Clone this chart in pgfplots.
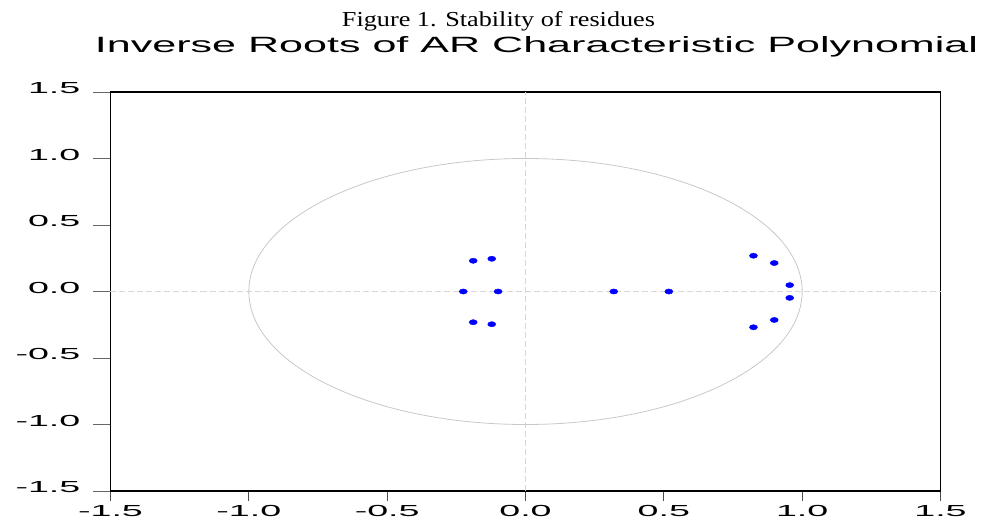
\documentclass[border=0pt]{standalone}
\usepackage{fontspec}
\setmainfont{Liberation Serif}
\setsansfont{Liberation Sans}
\usepackage{graphicx}
\usepackage{pgfplots}
\pgfplotsset{compat=1.18}
\definecolor{ptblue}{RGB}{0,0,255}
\definecolor{gridgray}{RGB}{215,215,215}
\definecolor{circgray}{RGB}{200,200,200}
% stretched tick labels like the reference
\newcommand{\tl}[1]{\scalebox{2.35}[1]{\fontsize{16}{17}\sffamily #1}}

\begin{document}
\begin{tikzpicture}
\useasboundingbox (-110.5pt,-31pt) rectangle (874.5pt,491pt);
\begin{axis}[scale only axis, width=830pt, height=399pt,
  xmin=-1.5, xmax=1.5, ymin=-1.5, ymax=1.5,
  axis line style={black, line width=1.3pt},
  tick align=outside, xtick pos=bottom, ytick pos=left,
  major tick length=10pt,
  tick style={black!70, line width=0.9pt},
  ytick style={draw=none},
  xtick={-1.5,-1,-0.5,0,0.5,1,1.5},
  ytick={-1.5,-1,-0.5,0,0.5,1,1.5},
  xticklabels={\tl{-1.5},\tl{-1.0},\tl{-0.5},\tl{0.0},\tl{0.5},\tl{1.0},\tl{1.5}},
  yticklabels={\tl{-1.5},\tl{-1.0},\tl{-0.5},\tl{0.0},\tl{0.5},\tl{1.0},\tl{1.5}},
  xticklabel style={inner sep=0pt, anchor=north, yshift=-4pt},
  yticklabel style={inner sep=0pt, anchor=east, xshift=-20pt, yshift=4pt},
  clip=false]
\addplot[gridgray, line width=0.7pt, dash pattern=on 6pt off 3pt] coordinates {(0,-1.5) (0,1.5)};
\addplot[gridgray, line width=0.7pt, dash pattern=on 6pt off 3pt] coordinates {(-1.5,0) (1.5,0)};
\draw[circgray, line width=0.8pt] (axis cs:0,0) ellipse [x radius=1, y radius=1];
\pgfplotsinvokeforeach{-1.5,-1,-0.5,0,0.5,1,1.5}{
  \draw[black!60, line width=0.9pt] (axis cs:-1.5,#1) -- ++(-17pt,0pt);
}
\addplot[only marks, mark=*, mark size=2.6pt, mark options={ptblue, fill=ptblue, xscale=1.55}]
  coordinates {
  (-0.189,0.231) (-0.122,0.246) (-0.225,0) (-0.099,0)
  (-0.189,-0.231) (-0.122,-0.246)
  (0.319,0) (0.518,0)
  (0.824,0.269) (0.899,0.214) (0.955,0.048)
  (0.955,-0.048) (0.899,-0.214) (0.824,-0.269)};
\end{axis}
\node[anchor=base, inner sep=0pt] at (388pt,464pt) {\resizebox{313pt}{15pt}{\rmfamily Figure 1. Stability of residues}};
\node[anchor=base, inner sep=0pt] at (426pt,438pt) {\resizebox{883pt}{16pt}{\sffamily Inverse Roots of AR Characteristic Polynomial}};
\end{tikzpicture}
\end{document}
